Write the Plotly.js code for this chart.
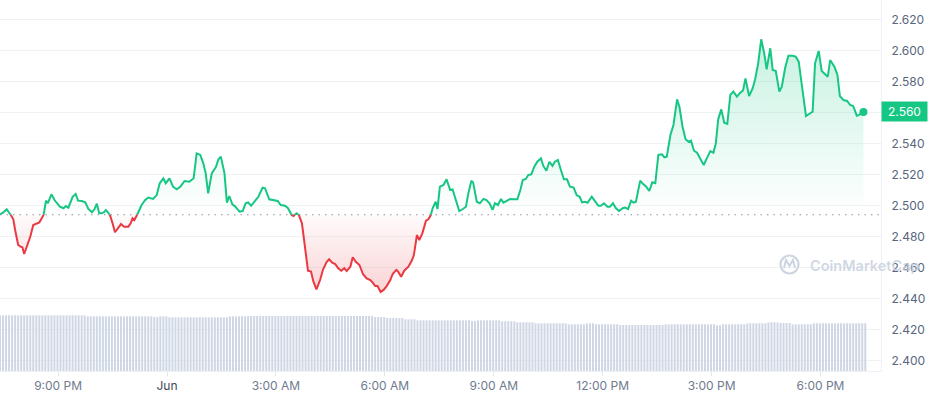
<!DOCTYPE html>
<html><head><meta charset="utf-8">
<script src="https://cdn.plot.ly/plotly-3.0.1.min.js"></script>
<style>html,body{margin:0;padding:0;background:#fff;}#chart{width:929px;height:396px;}</style>
</head><body><div id="chart"></div>
<script>
const startTime = Date.UTC(2024, 4, 31, 19, 24);
const minutes = [0,5,11,15,18,22,25,28,30,34,37,40,44,50,55,60,65,69,72,76,79,81,85,90,94,99,105,109,113,116,120,125,129,135,141,146,152,156,160,164,168,172,175,179,182,186,190,196,200,205,212,216,219,222,226,229,234,240,245,
253,259,264,270,274,280,286,292,298,305,313,320,325,331,336,340,344,350,357,361,365,371,375,379,384,388,396,401,406,410,415,421,427,434,438,445,452,459,464,471,476,482,485,490,494,499,
502,506,509,514,518,523,529,534,540,544,549,554,559,564,569,573,579,583,588,594,600,606,612,616,620,624,629,634,639,645,649,655,658,663,668,675,681,684,689,693,698,704,708,712,715,720,723,
727,733,738,744,748,754,759,765,770,774,779,782,788,793,799,804,809,814,818,823,828,832,838,843,848,855,860,864,869,873,878,883,888,894,898,903,908,913,917,922,927,932,937,942,948,953,958,962,967,971,978,983,989,993,998,1004,1008,1013,1018,1023,1029,1033,1038,1043,1047,1051,
1058,1063,1068,1073,1078,1083,1088,1094,1098,1102,1108,1113,1119,1123,1128,1133,1138,1142,1147,1152,1157,1163,1168,1174,1179,1183,1187,1192,1197,1202,1207,1212,1218,1223,1228,1232,1238,1244,1248,1253,1258,1263,1267,1273,1277,1282,1288,1292,1298,1303,1310,1315,1320,1325,1332,1339,1343,1347,1353,1358,1368,1372,1379,1384,1388,1394,1400,1405,1410,1416,1420,1424,1427];
const prices = [2.4942,2.4952,2.4974,2.4952,2.4937,2.4910,2.4841,2.4776,2.4744,2.4733,2.4729,2.4686,2.4733,2.4797,2.4873,2.4884,2.4890,2.4916,2.4935,2.5030,2.5013,2.5034,2.5071,2.5034,2.5013,2.4991,2.4981,2.4995,2.4985,2.5013,2.5055,2.5073,2.5030,2.5028,2.5019,2.4976,2.4955,2.4974,2.5010,2.4948,2.4948,2.4955,2.4970,2.4952,2.4933,2.4884,2.4826,2.4858,2.4879,2.4862,2.4862,2.4884,2.4916,2.4905,2.4933,2.4959,2.5002,2.5034,2.5050,
2.5041,2.5066,2.5142,2.5174,2.5142,2.5174,2.5120,2.5103,2.5120,2.5157,2.5152,2.5174,2.5335,2.5325,2.5271,2.5206,2.5077,2.5206,2.5249,2.5297,2.5314,2.5206,2.5017,2.5060,2.5006,2.4995,2.4959,2.4963,2.5013,2.5019,2.4997,2.5023,2.5055,2.5114,2.5110,2.5039,2.5034,2.5028,2.5002,2.4997,2.4981,2.4937,2.4931,2.4948,2.4937,2.4884,
2.4797,2.4690,2.4578,2.4572,2.4507,2.4458,2.4518,2.4587,2.4636,2.4652,2.4630,2.4621,2.4594,2.4578,2.4594,2.4576,2.4604,2.4665,2.4636,2.4615,2.4555,2.4529,2.4518,2.4501,2.4479,2.4479,2.4441,2.4454,2.4479,2.4518,2.4557,2.4583,2.4572,2.4539,2.4578,2.4604,2.4647,2.4679,2.4808,2.4776,2.4819,2.4901,2.4910,2.4937,2.4981,2.5023,2.4976,
2.5120,2.5131,2.5168,2.5099,2.5103,2.5023,2.4963,2.4976,2.4991,2.5077,2.5159,2.5146,2.5023,2.5013,2.5041,2.5034,2.5013,2.4970,2.5013,2.5002,2.5041,2.5017,2.5028,2.5041,2.5039,2.5039,2.5099,2.5163,2.5170,2.5195,2.5200,2.5249,2.5281,2.5303,2.5254,2.5223,2.5281,2.5254,2.5281,2.5292,2.5228,2.5168,2.5168,2.5120,2.5114,2.5066,2.5055,2.5019,2.5023,2.5017,2.5055,2.5030,2.4997,2.4997,2.5013,2.4991,2.4991,2.5013,2.4981,2.4963,2.4981,2.4985,2.4976,2.5030,2.5017,2.5023,
2.5159,2.5137,2.5120,2.5092,2.5148,2.5142,2.5325,2.5329,2.5310,2.5314,2.5454,2.5518,2.5684,2.5632,2.5507,2.5426,2.5410,2.5417,2.5352,2.5339,2.5303,2.5260,2.5303,2.5350,2.5339,2.5400,2.5555,2.5619,2.5533,2.5525,2.5712,2.5733,2.5701,2.5725,2.5741,2.5819,2.5705,2.5755,2.5813,2.5916,2.6071,2.5981,2.5877,2.6013,2.5873,2.5868,2.5733,2.5765,2.5894,2.5965,2.5965,2.5959,2.5927,2.5765,2.5576,2.5594,2.5604,2.5916,2.5996,2.5867,2.5830,2.5937,2.5894,2.5841,2.5705,2.5679,2.5673,2.5647,2.5641,2.5578,2.5583,2.5597,2.5602];
const basePrice = 2.4939;
const volumeStepMinutes = 5;
const volumes = [
120.1,120.1,120.1,120.1,120.1,120.1,120.1,120.1,120.1,120.1,120.1,120.1,120.1,120.1,120.1,120.1,120.1,120.1,120.1,120.1,120.1,120.1,120.1,120.1,120.1,120.1,120.1,120.1,120.1,
117.9,117.9,117.9,117.9,117.9,117.9,117.9,117.9,117.9,117.9,117.9,117.9,117.9,117.9,117.9,117.9,117.9,117.9,117.9,117.9,117.9,117.9,
116.4,116.4,
117.9,117.9,117.9,
115.8,115.8,115.8,115.8,115.8,115.8,115.8,115.8,115.8,115.8,115.8,115.8,115.8,115.8,115.8,115.8,115.8,115.8,115.8,115.8,
117.9,117.9,117.9,117.9,117.9,117.9,
118.6,118.6,118.6,118.6,118.6,118.6,118.6,118.6,118.6,118.6,118.6,118.6,118.6,118.6,118.6,118.6,118.6,118.6,118.6,118.6,118.6,118.6,118.6,118.6,118.6,118.6,118.6,118.6,118.6,118.6,118.6,118.6,118.6,118.6,118.6,118.6,118.6,118.6,118.6,118.6,118.6,118.6,
116.4,116.4,116.4,116.4,
114.3,114.3,114.3,114.3,114.3,114.3,
111.5,111.5,111.5,111.5,
109.3,109.3,109.3,109.3,109.3,109.3,109.3,109.3,109.3,109.3,109.3,109.3,109.3,109.3,109.3,109.3,109.3,109.3,
107.8,107.8,
109.3,109.3,109.3,109.3,109.3,109.3,109.3,109.3,
107.2,107.2,107.2,107.2,107.2,
105.0,105.0,105.0,105.0,105.0,105.0,
102.9,102.9,102.9,102.9,102.9,102.9,102.9,102.9,102.9,102.9,102.9,
100.7,100.7,100.7,100.7,100.7,100.7,
102.9,102.9,102.9,
100.7,100.7,100.7,100.7,100.7,100.7,100.7,100.7,
99.2,99.2,99.2,99.2,99.2,99.2,99.2,99.2,99.2,99.2,99.2,99.2,99.2,99.2,99.2,
100.7,100.7,100.7,100.7,100.7,100.7,100.7,100.7,100.7,100.7,100.7,100.7,100.7,100.7,100.7,100.7,100.7,
98.5,98.5,
100.7,100.7,100.7,100.7,100.7,100.7,100.7,100.7,
102.9,102.9,102.9,102.9,102.9,102.9,102.9,
105.0,105.0,105.0,105.0,
103.5,103.5,103.5,103.5,
100.7,100.7,100.7,100.7,100.7,100.7,100.7,
102.9,102.9,102.9,102.9,102.9,102.9,102.9,102.9,102.9,102.9,102.9,102.9,102.9,102.9,102.9,102.9,102.9,102.9];
const tickTimes = ['2024-05-31 21:00','2024-06-01 00:00','2024-06-01 03:00','2024-06-01 06:00','2024-06-01 09:00','2024-06-01 12:00','2024-06-01 15:00','2024-06-01 18:00'];
const tickLabels = ['9:00 PM','<span style="color:#3d4657">Jun</span>','3:00 AM','6:00 AM','9:00 AM','12:00 PM','3:00 PM','6:00 PM'];
const priceTicks = [2.40,2.42,2.44,2.46,2.48,2.50,2.52,2.54,2.56,2.58,2.60,2.62];

const GREEN = '#16c784', RED = '#ea3943';
function toDate(ms){ return new Date(ms).toISOString().replace('T',' ').slice(0,19); }

// split line at the opening price for colouring
const aug = [];
for (let i = 0; i < prices.length; i++) {
  const t = startTime + minutes[i]*60000;
  if (i > 0) {
    const p0 = prices[i-1], p1 = prices[i];
    if ((p0-basePrice)*(p1-basePrice) < 0) {
      const t0 = startTime + minutes[i-1]*60000;
      const f = (basePrice-p0)/(p1-p0);
      aug.push({t: t0 + f*(t-t0), p: basePrice});
    }
  }
  aug.push({t: t, p: prices[i]});
}
const ax = aug.map(a => toDate(a.t));
const greenY = aug.map(a => a.p >= basePrice ? a.p : null);
const redY = aug.map(a => a.p <= basePrice ? a.p : null);
const upFill = aug.map(a => Math.max(a.p, basePrice));
const downFill = aug.map(a => Math.min(a.p, basePrice));
const baseY = aug.map(() => basePrice);
const maxP = Math.max(...prices), minP = Math.min(...prices);
const lastP = prices[prices.length-1];
const lastT = toDate(startTime + minutes[minutes.length-1]*60000);
const lastLabel = lastP.toFixed(3);
// the current-price badge covers the tick label at the same level
const priceTickText = priceTicks.map(v => v.toFixed(3) === lastLabel ? '' : v.toFixed(3));

const traces = [
  {type:'bar', x: volumes.map((v,i)=>toDate(startTime + i*volumeStepMinutes*60000)), y: volumes, yaxis:'y2',
   marker:{color:'#cfd6e4', line:{width:0}}, width: volumeStepMinutes*60000*0.66, hoverinfo:'skip'},
  {type:'scatter', mode:'lines', x: ax, y: baseY, line:{width:0}, hoverinfo:'skip'},
  {type:'scatter', mode:'lines', x: ax, y: upFill, line:{width:0}, fill:'tonexty',
   fillgradient:{type:'vertical', start: basePrice, stop: maxP, colorscale:[[0,'rgba(22,199,132,0.0)'],[1,'rgba(22,199,132,0.24)']]}, hoverinfo:'skip'},
  {type:'scatter', mode:'lines', x: ax, y: baseY, line:{width:0}, hoverinfo:'skip'},
  {type:'scatter', mode:'lines', x: ax, y: downFill, line:{width:0}, fill:'tonexty',
   fillgradient:{type:'vertical', start: minP, stop: basePrice, colorscale:[[0,'rgba(234,57,67,0.22)'],[1,'rgba(234,57,67,0.02)']]}, hoverinfo:'skip'},
  {type:'scatter', mode:'lines', x: ax, y: greenY, line:{color:GREEN, width:2}, connectgaps:false},
  {type:'scatter', mode:'lines', x: ax, y: redY, line:{color:RED, width:2}, connectgaps:false},
  {type:'scatter', mode:'markers', x:[lastT], y:[lastP], marker:{color:GREEN, size:8}}
];

const W = 881, H = 371;
const layout = {
  width: 929, height: 396,
  margin: {l:0, r:48, t:0, b:25, pad:0},
  paper_bgcolor:'#ffffff', plot_bgcolor:'#ffffff',
  showlegend:false,
  font:{family:'Inter, "Noto Sans", sans-serif', size:12, color:'#616e85'},
  xaxis:{type:'date', range:[toDate(startTime), toDate(startTime + 1456*60000)],
    tickmode:'array', tickvals: tickTimes, ticktext: tickLabels,
    showgrid:false, zeroline:false, showline:true, linecolor:'#eff2f5', linewidth:1,
    ticks:'outside', ticklen:4, tickcolor:'#e3e6ec', tickfont:{size:12, color:'#6f7a8e'}, fixedrange:true},
  yaxis:{side:'right', range:[2.3931, 2.63245], tickmode:'array', tickvals: priceTicks, ticktext: priceTickText,
    showgrid:true, gridcolor:'#eff2f5', gridwidth:1, zeroline:false,
    showline:true, linecolor:'#eff2f5', linewidth:1,
    ticks:'outside', ticklen:7, tickcolor:'rgba(0,0,0,0)', tickfont:{size:12, color:'#58667e'}, fixedrange:true},
  yaxis2:{overlaying:'y', anchor:'x', range:[0,800], visible:false, fixedrange:true},
  shapes:[
    {type:'line', xref:'paper', x0:0, x1:1, yref:'y', y0:basePrice, y1:basePrice,
     line:{color:'#8d94a1', width:1.2, dash:'1.5px,5px'}},
    {type:'circle', xref:'paper', yref:'paper', x0:780.5/W, x1:798.5/W, y0:1-273.5/H, y1:1-255.5/H,
     line:{color:'rgba(200,208,222,0.9)', width:2.2}},
    {type:'path', xref:'paper', yref:'paper',
     path:'M '+(784/W)+','+(1-268/H)+' L '+(786/W)+','+(1-260/H)+' L '+(789.5/W)+','+(1-266/H)+' L '+(793/W)+','+(1-260/H)+' L '+(795/W)+','+(1-268/H),
     line:{color:'rgba(200,208,222,0.9)', width:2}}
  ],
  annotations:[
    {xref:'paper', x:1, xanchor:'left', yref:'y', y:lastP, yanchor:'middle',
     text: lastLabel, showarrow:false, bgcolor:GREEN, font:{color:'#ffffff', size:12},
     width:41, height:15, borderpad:2, align:'center'},
    {xref:'paper', x:808/W, xanchor:'left', yref:'paper', y:1-265/H, yanchor:'middle',
     text:'CoinMarketCap', showarrow:false, font:{size:14.5, color:'rgba(200,208,222,0.85)', family:'Inter, sans-serif', weight:600}}
  ]
};

Plotly.newPlot('chart', traces, layout, {staticPlot:true, displayModeBar:false});
</script></body></html>
